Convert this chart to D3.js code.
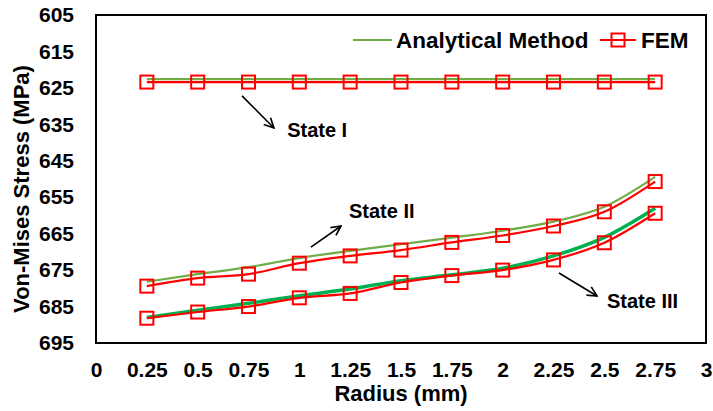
<!DOCTYPE html>
<html>
<head>
<meta charset="utf-8">
<script src="https://cdn.jsdelivr.net/npm/d3@7"></script>
<style>
	body { margin: 0; background: #fff; }
	svg { display: block; font-family: "Liberation Sans", Arial, sans-serif; font-weight: bold; }
</style>
</head>
<body>
<svg id="chart" width="713" height="411"></svg>
<script>
"use strict";

// DATA
const radius = [0.25, 0.5, 0.75, 1, 1.25, 1.5, 1.75, 2, 2.25, 2.5, 2.75];
const xTicks = [0, 0.25, 0.5, 0.75, 1, 1.25, 1.5, 1.75, 2, 2.25, 2.5, 2.75, 3];
const yTicks = [605, 615, 625, 635, 645, 655, 665, 675, 685, 695];

const stateIAnalytical = [622.6, 622.6, 622.6, 622.6, 622.6, 622.6, 622.6, 622.6, 622.6, 622.6, 622.6];
const stateIFem = [623.4, 623.4, 623.4, 623.4, 623.4, 623.4, 623.4, 623.4, 623.4, 623.4, 623.4];
const stateIIAnalytical = [678.2, 676.1, 674.2, 671.7, 669.7, 667.9, 666.1, 664.2, 661.7, 657.6, 649.4];
const stateIIFem = [679.4, 677.2, 676.1, 673.1, 671.1, 669.5, 667.4, 665.5, 662.9, 659.0, 650.7];
const stateIIIAnalytical = [688.0, 686.0, 684.1, 682.0, 680.2, 677.9, 676.3, 674.5, 671.1, 666.0, 658.0];
const stateIIIFem = [688.2, 686.5, 685.0, 682.6, 681.4, 678.4, 676.5, 675.0, 672.2, 667.5, 659.4];

// annotations in data units: arrow start, arrow end, label anchor
const notes = [
	{ label: "State I", from: [0.718, 627.2], to: [0.875, 636.0], at: [0.94, 638.5] },
	{ label: "State II", from: [1.057, 668.7], to: [1.205, 662.9], at: [1.244, 660.7] },
	{ label: "State III", from: [2.277, 675.8], to: [2.464, 682.1], at: [2.513, 685.4] },
];

const olive = "#70ad47";
const green = "#00b050";
const red = "#ff0000";

const margin = { top: 15, right: 7, bottom: 68, left: 96 };
const width = 713, height = 411;

const svg = d3.select("#chart");

const x = d3.scaleLinear().domain([0, 3]).range([margin.left, width - margin.right]);
// y axis runs downward: 605 on top
const y = d3.scaleLinear().domain([605, 695]).range([margin.top, height - margin.bottom]);

// arrow marker
svg.append("defs").append("marker")
	.attr("id", "arrow")
	.attr("viewBox", "0 0 10 10")
	.attr("refX", 9).attr("refY", 5)
	.attr("markerWidth", 12).attr("markerHeight", 12)
	.attr("markerUnits", "userSpaceOnUse")
	.attr("orient", "auto")
	.append("path")
	.attr("d", "M1,1 L9,5 L1,9")
	.attr("fill", "none")
	.attr("stroke", "#000")
	.attr("stroke-width", 1.4);

// axes (labels only)
const yAxis = svg.append("g")
	.attr("transform", `translate(${margin.left - 22},0)`)
	.call(d3.axisLeft(y).tickValues(yTicks).tickSize(0).tickPadding(0));
yAxis.select(".domain").remove();
yAxis.selectAll("text")
	.attr("font-size", 21)
	.attr("font-family", "Liberation Sans, Arial, sans-serif")
	.attr("font-weight", "bold")
	.attr("fill", "#000");

const xAxis = svg.append("g")
	.attr("transform", `translate(0,${height - margin.bottom + 19})`)
	.call(d3.axisBottom(x).tickValues(xTicks).tickFormat(d3.format("")).tickSize(0).tickPadding(0));
xAxis.select(".domain").remove();
xAxis.selectAll("text")
	.attr("font-size", 21)
	.attr("font-family", "Liberation Sans, Arial, sans-serif")
	.attr("font-weight", "bold")
	.attr("fill", "#000");

// axis titles
svg.append("text")
	.attr("x", (x(0) + x(3)) / 2)
	.attr("y", 401)
	.attr("text-anchor", "middle")
	.attr("font-size", 22)
	.text("Radius (mm)");

svg.append("text")
	.attr("transform", `translate(29,${(y(605) + y(695)) / 2 + 10}) rotate(-90)`)
	.attr("text-anchor", "middle")
	.attr("font-size", 22)
	.text("Von-Mises Stress (MPa)");

// plot frame
svg.append("rect")
	.attr("x", x(0)).attr("y", y(605))
	.attr("width", x(3) - x(0))
	.attr("height", y(695) - y(605))
	.attr("fill", "none")
	.attr("stroke", "#000")
	.attr("stroke-width", 2);

const line = d3.line()
	.x((d, i) => x(radius[i]))
	.y((d) => y(d))
	.curve(d3.curveMonotoneX);

const series = [
	{ values: stateIAnalytical, color: olive, width: 2.2, markers: false },
	{ values: stateIIAnalytical, color: olive, width: 2.2, markers: false },
	{ values: stateIIIAnalytical, color: green, width: 3.5, markers: false },
	{ values: stateIFem, color: red, width: 2.2, markers: true },
	{ values: stateIIFem, color: red, width: 2.2, markers: true },
	{ values: stateIIIFem, color: red, width: 2.2, markers: true },
];

const markerSize = 13;

series.forEach((s) => {
	svg.append("path")
		.datum(s.values)
		.attr("d", line)
		.attr("fill", "none")
		.attr("stroke", s.color)
		.attr("stroke-width", s.width);

	if (s.markers) {
		svg.append("g")
			.selectAll("rect")
			.data(s.values)
			.enter()
			.append("rect")
			.attr("x", (d, i) => x(radius[i]) - markerSize / 2)
			.attr("y", (d) => y(d) - markerSize / 2)
			.attr("width", markerSize)
			.attr("height", markerSize)
			.attr("fill", "none")
			.attr("stroke", s.color)
			.attr("stroke-width", 2);
	}
});

// annotations
notes.forEach((n) => {
	svg.append("line")
		.attr("x1", x(n.from[0])).attr("y1", y(n.from[1]))
		.attr("x2", x(n.to[0])).attr("y2", y(n.to[1]))
		.attr("stroke", "#000")
		.attr("stroke-width", 1.6)
		.attr("marker-end", "url(#arrow)");
	svg.append("text")
		.attr("x", x(n.at[0]))
		.attr("y", y(n.at[1]))
		.attr("font-size", 20)
		.text(n.label);
});

// legend
const legend = svg.append("g");
legend.append("line")
	.attr("x1", 353).attr("x2", 392)
	.attr("y1", 40).attr("y2", 40)
	.attr("stroke", olive)
	.attr("stroke-width", 2.2);
legend.append("text")
	.attr("x", 396).attr("y", 48)
	.attr("font-size", 22.5)
	.text("Analytical Method");
legend.append("line")
	.attr("x1", 600).attr("x2", 636)
	.attr("y1", 40).attr("y2", 40)
	.attr("stroke", red)
	.attr("stroke-width", 2.2);
legend.append("rect")
	.attr("x", 618 - markerSize / 2).attr("y", 40 - markerSize / 2)
	.attr("width", markerSize).attr("height", markerSize)
	.attr("fill", "none")
	.attr("stroke", red)
	.attr("stroke-width", 2);
legend.append("text")
	.attr("x", 641).attr("y", 48)
	.attr("font-size", 22.5)
	.text("FEM");
</script>
</body>
</html>
